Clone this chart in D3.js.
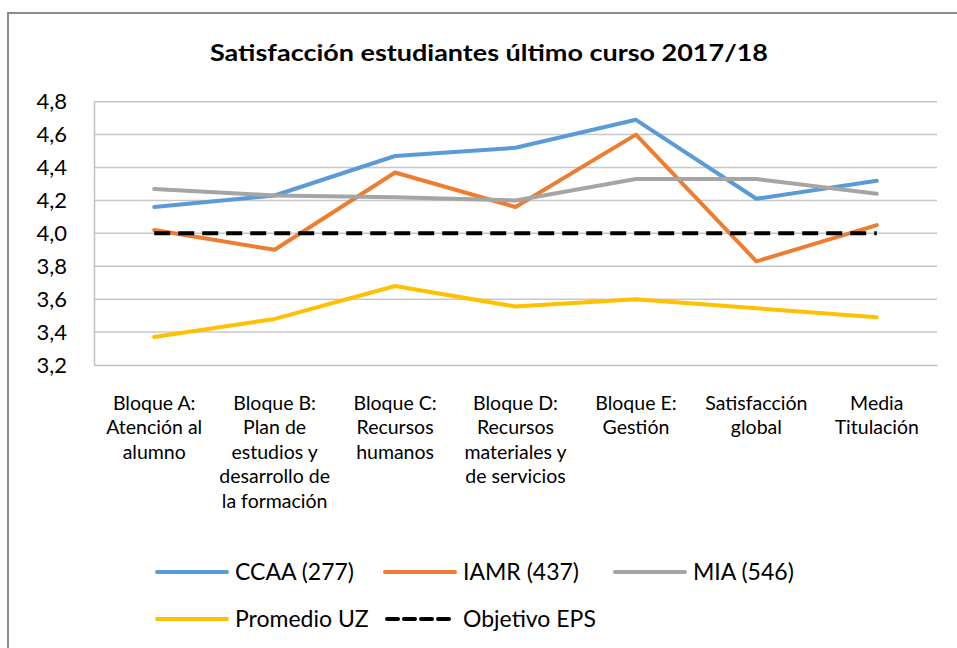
<!DOCTYPE html>
<html><head><meta charset="utf-8">
<script src="https://cdn.jsdelivr.net/npm/d3@7"></script>
<style>body{margin:0;background:#fff}svg{display:block}text{font-family:Lato,"Open Sans",sans-serif}</style>
</head><body><svg id="c" width="957" height="648"></svg>
<script>
const categories = [
  ["Bloque A:","Atención al","alumno"],
  ["Bloque B:","Plan de","estudios y","desarrollo de","la formación"],
  ["Bloque C:","Recursos","humanos"],
  ["Bloque D:","Recursos","materiales y","de servicios"],
  ["Bloque E:","Gestión"],
  ["Satisfacción","global"],
  ["Media","Titulación"]
];
const ccaa     = [4.16, 4.23, 4.47, 4.52, 4.69, 4.21, 4.32];
const iamr     = [4.02, 3.90, 4.37, 4.16, 4.60, 3.83, 4.05];
const mia      = [4.27, 4.23, 4.22, 4.20, 4.33, 4.33, 4.24];
const promedio = [3.37, 3.48, 3.68, 3.555, 3.60, 3.545, 3.49];
const objetivo = [4.0, 4.0, 4.0, 4.0, 4.0, 4.0, 4.0];
const yTicks = [3.2, 3.4, 3.6, 3.8, 4.0, 4.2, 4.4, 4.6, 4.8];
const seriesNames = ["CCAA (277)", "IAMR (437)", "MIA (546)", "Promedio UZ", "Objetivo EPS"];
const title = "Satisfacción estudiantes último curso 2017/18";

const colors = ["#5B9BD5", "#ED7D31", "#A5A5A5", "#FFC000", "#000000"];
const seriesData = [ccaa, iamr, mia, promedio, objetivo];

const svg = d3.select("#c");
svg.append("rect").attr("x",8).attr("y",13).attr("width",970).attr("height",700)
  .attr("fill","none").attr("stroke","#8c8c8c").attr("stroke-width",2);

svg.append("text").attr("x",489).attr("y",61).attr("text-anchor","middle")
  .attr("font-size",23).attr("font-weight","bold").attr("fill","#000")
  .attr("textLength",558).attr("lengthAdjust","spacingAndGlyphs").text(title);

const pLeft = 94, pRight = 937, pTop = 101.7, pBottom = 365;
const x = d3.scaleBand().domain(d3.range(categories.length)).range([pLeft, pRight]);
const y = d3.scaleLinear().domain([3.2, 4.8]).range([pBottom, pTop]);

const grid = svg.append("g");
grid.selectAll("line").data(yTicks.filter(t=>t>3.2)).join("line")
  .attr("x1",pLeft).attr("x2",pRight).attr("y1",d=>y(d)).attr("y2",d=>y(d))
  .attr("stroke","#c8c8c8").attr("stroke-width",1.5);

const yAxis = d3.axisLeft(y).tickValues(yTicks).tickSize(0).tickPadding(27)
  .tickFormat(d=>d3.format(".1f")(d).replace(".",","));
const ya = svg.append("g").attr("transform",`translate(${pLeft},0)`).call(yAxis);
ya.select(".domain").attr("stroke","#bfbfbf").attr("stroke-width",1.5);
ya.selectAll("text").attr("font-size",22).attr("fill","#000").attr("font-family","Lato");

const xAxis = d3.axisBottom(x).tickSize(0).tickFormat("");
const xa = svg.append("g").attr("transform",`translate(0,${pBottom})`).call(xAxis);
xa.select(".domain").attr("stroke","#bfbfbf").attr("stroke-width",1.5);

const cl = svg.append("g");
categories.forEach((lines,i)=>{
  const t = cl.append("text").attr("text-anchor","middle").attr("font-size",19.5).attr("fill","#000");
  lines.forEach((ln,j)=>{
    t.append("tspan").attr("x",x(i)+x.bandwidth()/2).attr("y",410+j*24.4).text(ln);
  });
});

const line = d3.line().x((d,i)=>x(i)+x.bandwidth()/2).y(d=>y(d));
seriesData.forEach((s,k)=>{
  const p = svg.append("path").datum(s).attr("d",line).attr("fill","none")
    .attr("stroke",colors[k]).attr("stroke-width",4).attr("stroke-linejoin","round");
  if(k===4){ p.attr("stroke-dasharray","16,8"); } else { p.attr("stroke-linecap","round"); }
});

const legendPos = [[157,572],[385,572],[615,572],[157,619],[385,619]];
seriesNames.forEach((n,k)=>{
  const [lx,ly] = legendPos[k];
  const l = svg.append("line").attr("x1",lx).attr("x2",lx+70).attr("y1",ly).attr("y2",ly)
    .attr("stroke",colors[k]).attr("stroke-width",4);
  if(k===4) l.attr("stroke-dasharray","11,6").attr("stroke-linecap","round").attr("x1",lx+2);
  else l.attr("stroke-linecap","round");
  svg.append("text").attr("x",lx+78).attr("y",ly+8).attr("font-size",23).attr("fill","#000").text(n);
});
</script></body></html>
